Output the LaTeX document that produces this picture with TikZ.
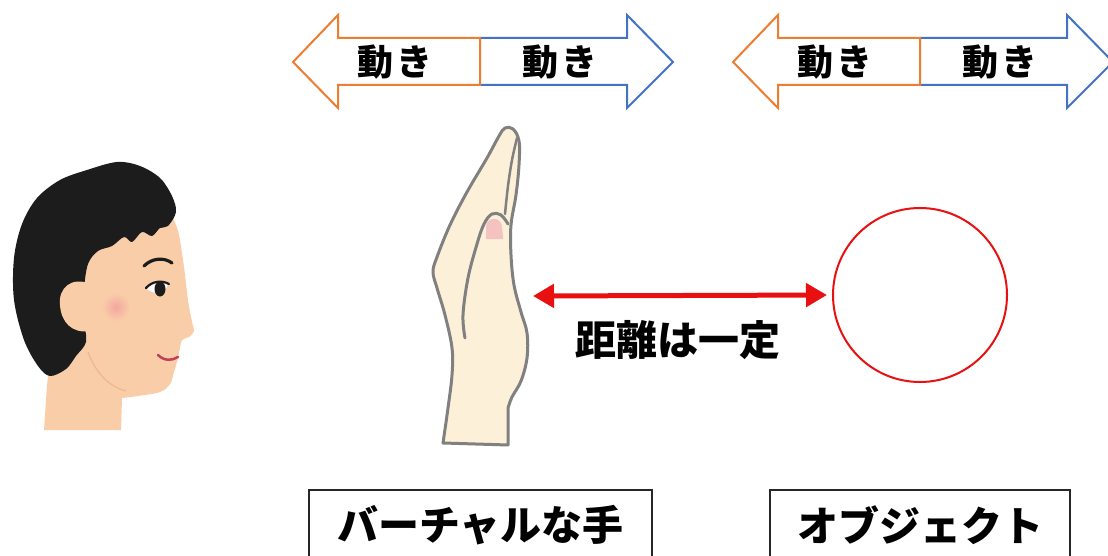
\documentclass[tikz,border=0pt]{standalone}
\usepackage{fontspec}
\setmainfont{Noto Sans CJK JP}
\usetikzlibrary{arrows.meta}
\definecolor{moveL}{HTML}{ED7D31}
\definecolor{moveR}{HTML}{4472C4}
\definecolor{distred}{HTML}{E81010}
\definecolor{skin}{HTML}{F9CDA8}
\definecolor{skinline}{HTML}{EDB792}
\definecolor{hair}{HTML}{1C1C1C}
\definecolor{blush}{HTML}{F4A6A0}
\definecolor{lips}{HTML}{C2405A}
\definecolor{handfill}{HTML}{FCF0D9}
\definecolor{handline}{HTML}{808080}
\definecolor{nail}{HTML}{F5C2C2}
\tikzset{
  movearrowL/.style={draw=moveL, line width=2pt, fill=white, line join=miter},
  movearrowR/.style={draw=moveR, line width=2pt, fill=white, line join=miter},
  movetext/.style={font=\bfseries\fontsize{36}{40}\selectfont, inner sep=0pt},
  labeltext/.style={font=\bfseries\fontsize{41}{46}\selectfont, inner sep=0pt},
  namebox/.style={draw=black!85, line width=1.3pt, font=\bfseries\fontsize{41}{46}\selectfont,
    minimum height=70pt, inner sep=0pt},
  handstyle/.style={fill=handfill, draw=handline, line width=3pt, line join=round, line cap=round},
  distarrow/.style={draw=distred, line width=5pt, {Triangle[length=21pt,width=23pt]}-{Triangle[length=21pt,width=23pt]}},
}
\begin{document}
\begin{tikzpicture}[x=1pt, y=-1pt]
\useasboundingbox (0,0) rectangle (1108,556);
\fill[white] (0,0) rectangle (1108,556);
\clip (0,0) rectangle (1108,556);

% ---- movement arrows above the hand ----
\draw[movearrowR] (480,38) -- (627,38) -- (627,15) -- (673,62) -- (627,108) -- (627,85) -- (480,85);
\draw[movearrowL] (480,38) -- (338,38) -- (338,15) -- (293,62) -- (338,108) -- (338,85) -- (480,85) -- cycle;
\node[movetext] (mvHL) at (395,62) {動\kern3pt き};
\node[movetext] (mvHR) at (560,62) {動\kern3pt き};

% ---- movement arrows above the object ----
\draw[movearrowR] (920,38) -- (1067,38) -- (1067,15) -- (1113,62) -- (1067,108) -- (1067,85) -- (920,85);
\draw[movearrowL] (920,38) -- (778,38) -- (778,15) -- (733,62) -- (778,108) -- (778,85) -- (920,85) -- cycle;
\node[movetext] (mvOL) at (835,62) {動\kern3pt き};
\node[movetext] (mvOR) at (1000,62) {動\kern3pt き};

% ---- head in profile ----
\fill[skin] (44,430) -- (47,385)
  -- plot[smooth, tension=0.6] coordinates {(52,345) (62,290) (85,232) (120,205) (160,205) (176,225) (183,260) (188,300) (192,322) (194,331) (189,337) (182,340) (180,348) (178,358) (174,372) (170,384) (160,392) (138,396) (122,398)}
  -- (121,430) -- cycle;
\fill[hair] plot[smooth cycle, tension=0.55] coordinates {
  (117,162) (140,166) (160,178) (172,196) (176,212) (168,226)
  (160,228) (152,236) (142,232) (132,242) (124,237) (112,246) (98,251)
  (88,264) (84,290) (84,320) (86,342) (76,356) (66,369) (50,376) (38,366)
  (24,340) (14,300) (14,258) (22,224) (37,198) (60,180) (87,170)};
% ear
\fill[skin] (90,284) .. controls (72,276) and (58,288) .. (60,305)
  .. controls (61,322) and (72,334) .. (90,331) -- cycle;
% jaw line
\draw[skinline, line width=1.2pt] (88,352) .. controls (96,374) and (110,387) .. (126,391);
% blush
\shade[inner color=blush, outer color=skin] (116,307) circle (14);
% eyebrow
\draw[hair, line width=3.2pt, line cap=round] (144,266) .. controls (152,258) and (164,257) .. (172,263);
% eye
\fill[white] (147,289) .. controls (152,282) and (162,281) .. (168,285) .. controls (164,294) and (154,295) .. (147,289) -- cycle;
\fill[hair] (160,289) ellipse (5.5 and 7.5);
\draw[hair, line width=2.2pt, line cap=round] (146,288) .. controls (152,281) and (162,280) .. (169,284);
% mouth
\draw[lips, line width=2.5pt, line cap=round] (158,355) .. controls (164,361) and (172,361) .. (178,357);

% ---- virtual hand ----
\filldraw[handstyle] plot[smooth, tension=0.6] coordinates {
  (443,443) (448,408) (452,375) (452,348) (445,315) (437,288) (433,272)
  (437,257) (450,225) (467,192) (487,158) (499,136) (505,128) (513,129)
  (519,141) (519,165) (516,195) (511,225) (511,255) (514,285) (521,312)
  (527,333) (527,358) (521,381) (512,397) (508,408)} -- (508,445) -- cycle;
\fill[nail] (486,239) -- (486,226) .. controls (487,217) and (500,216) .. (502,226) -- (503,239) -- cycle;
\draw[handstyle, fill=none] plot[smooth, tension=0.6] coordinates {
  (465,338) (463,315) (468,278) (477,244) (484,224) (492,214) (501,215) (508,224)};
\draw[handstyle, fill=none, line width=2.5pt] plot[smooth, tension=0.6] coordinates {
  (505,214) (508,186) (512,160) (517,138)};
\coordinate (handR) at (533,296);

% ---- object and constant distance ----
\node[circle, draw=distred, line width=2pt, minimum size=174pt, inner sep=0pt] (obj) at (920,295) {};
\draw[distarrow, shorten >=5pt] (handR) -- (obj.west);
\node[labeltext] (dist) at (678,340) {距離は一定};

% ---- captions ----
\node[namebox, minimum width=343pt] (capHand) at (480.5,525) {バーチャルな手};
\node[namebox, minimum width=300pt] (capObj) at (920,525) {オブジェクト};
\end{tikzpicture}
\end{document}
